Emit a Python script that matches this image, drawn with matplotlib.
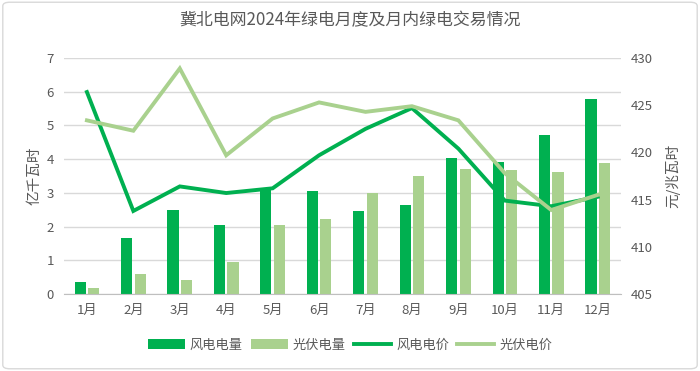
import numpy as np
import matplotlib.pyplot as plt
from matplotlib.patches import FancyBboxPatch

plt.rcParams['font.family'] = ['Noto Sans CJK SC', 'DejaVu Sans']

months = ['1月', '2月', '3月', '4月', '5月', '6月', '7月', '8月', '9月', '10月', '11月', '12月']
wind_vol = [0.37, 1.65, 2.48, 2.04, 3.15, 3.05, 2.45, 2.65, 4.03, 3.93, 4.72, 5.78]
solar_vol = [0.18, 0.58, 0.42, 0.95, 2.04, 2.22, 3.0, 3.5, 3.72, 3.67, 3.62, 3.88]
wind_price = [426.4, 413.8, 416.4, 415.7, 416.2, 419.7, 422.5, 424.7, 420.4, 414.9, 414.3, 415.3]
solar_price = [423.4, 422.3, 428.9, 419.7, 423.6, 425.3, 424.3, 424.9, 423.4, 417.8, 413.9, 415.5]

c_wind = '#00B050'
c_solar = '#A9D18E'
c_text = '#595959'

fig = plt.figure(figsize=(7, 3.71), dpi=100)
fig.patches.append(FancyBboxPatch((0.004, 0.006), 0.992, 0.988, boxstyle='round,pad=0,rounding_size=0.01',
                                  transform=fig.transFigure, fill=False, edgecolor='#D9D9D9', linewidth=1))
ax = fig.add_axes([0.091, 0.2075, 0.796, 0.636])
ax2 = ax.twinx()

x = np.arange(len(months))
w = 0.24
ax.bar(x - 0.145, wind_vol, width=w, color=c_wind, label='风电电量', zorder=2)
ax.bar(x + 0.145, solar_vol, width=w, color=c_solar, label='光伏电量', zorder=2)
ax2.plot(x, wind_price, color=c_wind, linewidth=2.8, label='风电电价', solid_joinstyle='miter')
ax2.plot(x, solar_price, color=c_solar, linewidth=2.8, label='光伏电价', solid_joinstyle='miter')

ax.set_xlim(-0.5, len(months) - 0.5)
ax.set_ylim(0, 7)
ax.set_yticks(range(0, 8))
ax2.set_ylim(405, 430)
ax2.set_yticks(range(405, 431, 5))
ax.set_xticks(x)
ax.set_xticklabels(months)
ax.yaxis.grid(True, color='#D9D9D9', linewidth=1, zorder=0)
ax.set_axisbelow(True)

for a in (ax, ax2):
    for s in a.spines.values():
        s.set_visible(False)
    a.tick_params(length=0, labelsize=9.5, colors=c_text, pad=7)
ax.spines['bottom'].set_visible(True)
ax.spines['bottom'].set_color('#BFBFBF')

ax.set_ylabel('亿千瓦时', fontsize=10.5, color=c_text, labelpad=4)
ax2.set_ylabel('元/兆瓦时', fontsize=10.5, color=c_text, labelpad=9)
fig.text(0.5, 0.946, '冀北电网2024年绿电月度及月内绿电交易情况', ha='center', va='center',
         fontsize=12.2, color=c_text)

h1, l1 = ax.get_legend_handles_labels()
h2, l2 = ax2.get_legend_handles_labels()
fig.legend(h1 + h2, l1 + l2, loc='center', bbox_to_anchor=(0.5, 0.07), ncol=4, frameon=False,
           fontsize=9.5, labelcolor=c_text, handlelength=2.8, handletextpad=0.4, columnspacing=0.6)

fig.savefig('out.png', dpi=100)
